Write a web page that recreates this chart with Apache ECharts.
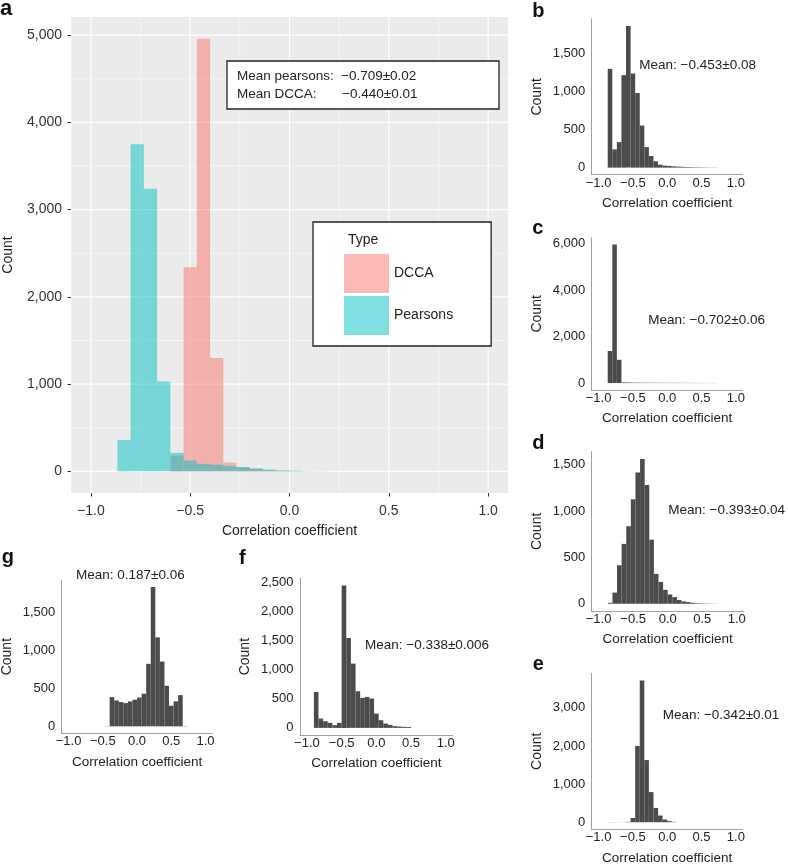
<!DOCTYPE html>
<html><head><meta charset="utf-8">
<script src="https://cdn.jsdelivr.net/npm/echarts@6/dist/echarts.min.js"></script>
<style>html,body{margin:0;padding:0;background:#fff}#c{width:788px;height:866px}</style>
</head><body><div id="c"></div>
<script>
// ---------- DATA ----------
const BIN = 1 / 15;                       // histogram bin width
const xTicks = [-1, -0.5, 0, 0.5, 1];
const xMinor = [-0.75, -0.25, 0.25, 0.75];

// Panel a
const aPearsonsStart = -13 / 15;
const aPearsons = [360, 3750, 3240, 1030, 211, 125, 85, 77, 60, 50, 30, 20, 12, 8, 4, 2];
const aDCCAStart = -9 / 15;
const aDCCA = [180, 2340, 4960, 1300, 100, 46, 35, 15, 6, 3];
const aYTicks = [0, 1000, 2000, 3000, 4000, 5000];
const aYMinor = [500, 1500, 2500, 3500, 4500];
const aMeanLabels = ['Mean pearsons:', 'Mean DCCA:'];
const aMeanValues = ['\u22120.709\u00b10.02', '\u22120.440\u00b10.01'];
const legendNames = ['DCCA', 'Pearsons'];

// Panel b
const bStart = -13 / 15;
const bCounts = [1300, 240, 336, 1217, 1863, 1239, 982, 554, 270, 153, 83, 39, 26, 22, 17, 13, 10, 8, 6, 5, 4, 3, 2, 2];
const bYTicks = [0, 500, 1000, 1500];
const bMean = 'Mean: \u22120.453\u00b10.08';

// Panel c
const cStart = -13 / 15;
const cCounts = [1380, 5950, 1000, 30, 25, 20, 18, 16, 15, 14, 13, 12, 12, 11, 10, 10, 9, 9, 8, 8, 7, 6, 5, 4];
const cYTicks = [0, 2000, 4000, 6000];
const cMean = 'Mean: \u22120.702\u00b10.06';

// Panel d
const dStart = -13 / 15;
const dCounts = [10, 120, 415, 645, 835, 1125, 1415, 1560, 1280, 690, 322, 235, 150, 100, 72, 40, 25, 18, 10, 6, 4, 3, 2, 1];
const dYTicks = [0, 500, 1000, 1500];
const dMean = 'Mean: \u22120.393\u00b10.04';

// Panel e
const eStart = -13 / 15;
const eCounts = [4, 3, 2, 2, 10, 110, 2000, 3720, 1630, 790, 375, 175, 70, 30, 10];
const eYTicks = [0, 1000, 2000, 3000];
const eMean = 'Mean: \u22120.342\u00b10.01';

// Panel g
const gStart = -7 / 15;
const gCounts = [3, 386, 342, 320, 307, 329, 351, 380, 430, 825, 1840, 1175, 855, 535, 272, 330, 412, 3];
const gYTicks = [0, 500, 1000, 1500];
const gMean = 'Mean: 0.187\u00b10.06';

// Panel f
const fStart = -13.5 / 15;
const fCounts = [616, 160, 114, 86, 46, 86, 2443, 1541, 1102, 628, 514, 531, 502, 245, 131, 74, 51, 29, 23, 17, 15];
const fYTicks = [0, 500, 1000, 1500, 2000, 2500];
const fMean = 'Mean: \u22120.338\u00b10.006';

// ---------- LAYOUT / STYLE ----------
const FONT = "'Liberation Sans', Arial, Helvetica, sans-serif";
const layout = {
  a: {left: 71, top: 17, width: 437, height: 476},
  b: {left: 591.7, top: 19, width: 151, height: 155.7},
  c: {left: 591.7, top: 237.7, width: 151, height: 152.3},
  d: {left: 591.7, top: 451.7, width: 152, height: 159.3},
  e: {left: 591.7, top: 673.3, width: 151, height: 156},
  g: {left: 61.7, top: 580, width: 150.7, height: 153.3},
  f: {left: 300, top: 578.3, width: 152.7, height: 156.7}
};
const small = [
  {id: 'b', start: bStart, counts: bCounts, yTicks: bYTicks, mean: bMean, mx: 639.3, my: 66.7, lx: 532.3, ly: 11},
  {id: 'c', start: cStart, counts: cCounts, yTicks: cYTicks, mean: cMean, mx: 648.3, my: 321, lx: 532.3, ly: 228.7},
  {id: 'd', start: dStart, counts: dCounts, yTicks: dYTicks, mean: dMean, mx: 668.3, my: 511.7, lx: 532.3, ly: 443.4},
  {id: 'e', start: eStart, counts: eCounts, yTicks: eYTicks, mean: eMean, mx: 662.7, my: 716.7, lx: 532.7, ly: 664.4},
  {id: 'g', start: gStart, counts: gCounts, yTicks: gYTicks, mean: gMean, mx: 76, my: 576.7, lx: 1.7, ly: 557.7},
  {id: 'f', start: fStart, counts: fCounts, yTicks: fYTicks, mean: fMean, mx: 365, my: 646, lx: 239, ly: 558.7}
];

const fmtX = v => (v < 0 ? '\u2212' : '') + Math.abs(v).toFixed(1);
const fmtY = v => String(Math.round(v)).replace(/\B(?=(\d{3})+(?!\d))/g, ',');

function mkHist(start, counts) {
  return counts.map((c, i) => [start + i * BIN, start + (i + 1) * BIN, c]);
}
function histRender(color) {
  return function (params, api) {
    const p0 = api.coord([api.value(0), 0]);
    const p1 = api.coord([api.value(1), api.value(2)]);
    return {type: 'rect', shape: {x: p0[0], y: p1[1], width: p1[0] - p0[0], height: p0[1] - p1[1]},
      style: {fill: color}};
  };
}
function gridRender(params, api) {
  const dir = api.value(0), v = api.value(1), major = api.value(2);
  const cs = params.coordSys;
  let shape;
  if (dir === 0) {
    const x = api.coord([v, 0])[0];
    shape = {x1: x, y1: cs.y, x2: x, y2: cs.y + cs.height};
  } else {
    const y = api.coord([0, v])[1];
    shape = {x1: cs.x, y1: y, x2: cs.x + cs.width, y2: y};
  }
  return {type: 'line', shape: shape, style: {stroke: '#ffffff', lineWidth: major ? 1.2 : 0.55}};
}

const grids = [], xAxes = [], yAxes = [], series = [], graphics = [];

// Panel a
const aMax = Math.max(...aDCCA, ...aPearsons);
grids.push(Object.assign({show: true, backgroundColor: '#EBEBEB', borderWidth: 0, outerBoundsMode: 'none'}, layout.a));
xAxes.push({gridIndex: 0, type: 'value', min: -1.1, max: 1.1,
  axisLine: {show: false, onZero: false},
  axisTick: {show: true, customValues: xTicks, length: 3.5, lineStyle: {color: '#333', width: 1}},
  axisLabel: {customValues: xTicks, formatter: fmtX, margin: 11, fontSize: 14, color: '#333', fontFamily: FONT},
  splitLine: {show: false},
  name: 'Correlation coefficient', nameLocation: 'middle', nameGap: 31,
  nameTextStyle: {fontSize: 14, color: '#222', fontFamily: FONT}});
yAxes.push({gridIndex: 0, type: 'value', min: -0.05 * aMax, max: 1.05 * aMax,
  axisLine: {show: false, onZero: false},
  axisTick: {show: true, customValues: aYTicks, length: 3.5, lineStyle: {color: '#333', width: 1}},
  axisLabel: {customValues: aYTicks, formatter: fmtY, margin: 9, fontSize: 14, color: '#333', fontFamily: FONT},
  splitLine: {show: false},
  name: 'Count', nameLocation: 'middle', nameGap: 56,
  nameTextStyle: {fontSize: 14, color: '#222', fontFamily: FONT}});
const gridData = []
  .concat(xTicks.map(v => [0, v, 1]))
  .concat(xMinor.map(v => [0, v, 0]))
  .concat(aYTicks.map(v => [1, v, 1]))
  .concat(aYMinor.map(v => [1, v, 0]));
series.push({type: 'custom', name: 'grid', xAxisIndex: 0, yAxisIndex: 0, silent: true, z: 1,
  renderItem: gridRender, data: gridData});
series.push({type: 'custom', name: 'DCCA', xAxisIndex: 0, yAxisIndex: 0, z: 2,
  itemStyle: {color: 'rgba(248,118,109,0.5)'},
  renderItem: histRender('rgba(248,118,109,0.5)'), encode: {x: [0, 1], y: 2},
  data: mkHist(aDCCAStart, aDCCA)});
series.push({type: 'custom', name: 'Pearsons', xAxisIndex: 0, yAxisIndex: 0, z: 2,
  itemStyle: {color: 'rgba(0,191,196,0.5)'},
  renderItem: histRender('rgba(0,191,196,0.5)'), encode: {x: [0, 1], y: 2},
  data: mkHist(aPearsonsStart, aPearsons)});

// Small panels
small.forEach((p, k) => {
  const gi = k + 1;
  const mx = Math.max(...p.counts);
  grids.push(Object.assign({outerBoundsMode: 'none'}, layout[p.id]));
  xAxes.push({gridIndex: gi, type: 'value', min: -1.1, max: 1.1,
    axisLine: {show: true, onZero: false, lineStyle: {color: '#a0a0a0', width: 1}},
    axisTick: {show: false, customValues: xTicks},
    axisLabel: {customValues: xTicks, formatter: fmtX, margin: 2, fontSize: 13, color: '#222', fontFamily: FONT},
    splitLine: {show: false},
    name: 'Correlation coefficient', nameLocation: 'middle', nameGap: 21.5,
    nameTextStyle: {fontSize: 13.5, color: '#222', fontFamily: FONT}});
  yAxes.push({gridIndex: gi, type: 'value', min: -0.05 * mx, max: 1.05 * mx,
    axisLine: {show: true, onZero: false, lineStyle: {color: '#a0a0a0', width: 1}},
    axisTick: {show: false, customValues: p.yTicks},
    axisLabel: {customValues: p.yTicks, formatter: fmtY, margin: 6.5, fontSize: 13, color: '#222', fontFamily: FONT},
    splitLine: {show: false},
    name: 'Count', nameLocation: 'middle', nameGap: 47.5,
    nameTextStyle: {fontSize: 14, color: '#222', fontFamily: FONT}});
  series.push({type: 'custom', name: 'hist_' + p.id, xAxisIndex: gi, yAxisIndex: gi, z: 2,
    itemStyle: {color: '#4b4b4b'},
    renderItem: histRender('#4b4b4b'), encode: {x: [0, 1], y: 2},
    data: mkHist(p.start, p.counts)});
  graphics.push({type: 'text', left: p.mx, top: p.my - 8, style: {text: p.mean, fontSize: 13.5, fill: '#222', fontFamily: FONT}});
  graphics.push({type: 'text', x: p.lx, y: p.ly, style: {text: p.id, fontSize: 20, fontWeight: 'bold', fill: '#111', fontFamily: FONT, verticalAlign: 'middle'}});
});

// panel a annotations
graphics.push({type: 'text', x: 0, y: 9.4, style: {text: 'a', fontSize: 22, fontWeight: 'bold', fill: '#111', fontFamily: FONT, verticalAlign: 'middle'}});
graphics.push({type: 'rect', shape: {x: 227, y: 61, width: 272, height: 48}, style: {fill: '#fff', stroke: '#222', lineWidth: 1.3}, z: 10});
aMeanLabels.forEach((t, i) => {
  graphics.push({type: 'text', x: 237, y: 76 + i * 18, z: 11, style: {text: t, fontSize: 13.5, fill: '#222', fontFamily: FONT, verticalAlign: 'middle'}});
  graphics.push({type: 'text', x: 341 + i * 1.2, y: 76 + i * 18, z: 11, style: {text: aMeanValues[i], fontSize: 13.5, fill: '#222', fontFamily: FONT, verticalAlign: 'middle'}});
});
graphics.push({type: 'text', x: 348, y: 240, z: 11, style: {text: 'Type', fontSize: 14, fill: '#222', fontFamily: FONT, verticalAlign: 'middle'}});

const chart = echarts.init(document.getElementById('c'), null, {renderer: 'canvas'});
chart.setOption({
  animation: false,
  backgroundColor: '#ffffff',
  textStyle: {fontFamily: FONT},
  grid: grids,
  xAxis: xAxes,
  yAxis: yAxes,
  legend: {
    data: legendNames, orient: 'vertical', left: 313, top: 222,
    padding: [32, 38, 11, 31], itemWidth: 45, itemHeight: 39, itemGap: 3,
    icon: 'rect', selectedMode: false,
    backgroundColor: '#ffffff', borderColor: '#222', borderWidth: 1.3,
    textStyle: {fontSize: 14, color: '#222', fontFamily: FONT}
  },
  series: series,
  graphic: graphics
});
</script></body></html>
